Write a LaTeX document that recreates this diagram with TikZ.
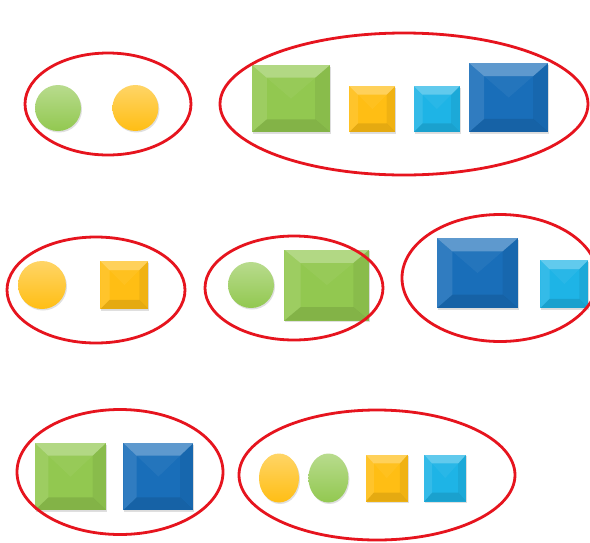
\documentclass[tikz,border=0pt]{standalone}
\usetikzlibrary{positioning, shapes.geometric, shadows, calc}
\definecolor{leafgreen}{RGB}{146,200,80}
\definecolor{sunyellow}{RGB}{255,190,20}
\definecolor{skycyan}{RGB}{30,180,230}
\definecolor{deepblue}{RGB}{25,110,185}
\definecolor{ringred}{RGB}{230,20,30}

\tikzset{
  ball/.style={circle, inner sep=0pt, minimum size=46pt, top color=#1!65!white, bottom color=#1,
    drop shadow={shadow xshift=1pt, shadow yshift=-1.5pt, opacity=0.25}},
  gem/.style={rectangle, inner sep=0pt, fill=#1,
    drop shadow={shadow xshift=1pt, shadow yshift=-1.5pt, opacity=0.25},
    path picture={
      \coordinate (nw) at (path picture bounding box.north west);
      \coordinate (ne) at (path picture bounding box.north east);
      \coordinate (sw) at (path picture bounding box.south west);
      \coordinate (se) at (path picture bounding box.south east);
      \coordinate (mid) at (path picture bounding box.center);
      \coordinate (inw) at ($(nw)!0.38!(mid)$);
      \coordinate (ine) at ($(ne)!0.38!(mid)$);
      \coordinate (isw) at ($(sw)!0.38!(mid)$);
      \coordinate (ise) at ($(se)!0.38!(mid)$);
      \fill[white, opacity=0.30] (nw) -- (ne) -- (ine) -- (inw) -- cycle;
      \fill[white, opacity=0.10] (nw) -- (sw) -- (isw) -- (inw) -- cycle;
      \fill[black, opacity=0.06] (ne) -- (se) -- (ise) -- (ine) -- cycle;
      \fill[black, opacity=0.10] (sw) -- (se) -- (ise) -- (isw) -- cycle;
      \fill[white, opacity=0.05] (inw) -- (ine) -- (mid) -- cycle;
    }},
  grp/.style={ellipse, draw=ringred, line width=2.8pt, inner sep=0pt}
}

\begin{document}
\begin{tikzpicture}[x=1pt, y=-1pt]
  \fill[white] (0,0) rectangle (590,542);
  \useasboundingbox (0,0) rectangle (590,542);

  % first row
  \node[ball=leafgreen] (gc1) at (58,108) {};
  \node[ball=sunyellow, right=31pt of gc1] (yc1) {};
  \node[gem=leafgreen, minimum width=78pt, minimum height=67pt] (gs1) at (291,98.5) {};
  \node[gem=sunyellow, minimum size=46pt, right=19pt of gs1.south east, anchor=south west] (ys1) {};
  \node[gem=skycyan, minimum size=46pt, right=18pt of ys1] (cs1) {};
  \node[gem=deepblue, minimum width=79pt, minimum height=69pt, right=9pt of cs1.south east, anchor=south west] (bs1) {};

  % second row
  \node[ball=sunyellow, minimum size=48pt] (yc2) at (42,285) {};
  \node[gem=sunyellow, minimum size=48pt, right=34pt of yc2] (ys2) {};
  \node[ball=leafgreen] (gc2) at (251,285) {};
  \node[gem=leafgreen, minimum width=85pt, minimum height=71pt, right=10pt of gc2] (gs2) {};
  \node[gem=deepblue, minimum width=81pt, minimum height=70pt] (bs2) at (477.5,273) {};
  \node[gem=skycyan, minimum size=48pt, right=22pt of bs2.south east, anchor=south west] (cs2) {};

  % third row
  \node[gem=leafgreen, minimum width=71pt, minimum height=67pt] (gs3) at (70.5,476.5) {};
  \node[gem=deepblue, minimum width=70pt, minimum height=67pt, right=17pt of gs3] (bs3) {};
  \node[ball=sunyellow, ellipse, minimum width=40pt, minimum height=49pt] (yc3) at (279,478) {};
  \node[ball=leafgreen, ellipse, minimum width=40pt, minimum height=49pt, right=9pt of yc3] (gc3) {};
  \node[gem=sunyellow, minimum width=42pt, minimum height=47pt, right=17pt of gc3] (ys3) {};
  \node[gem=skycyan, minimum width=42pt, minimum height=47pt, right=16pt of ys3] (cs3) {};

  % groups
  \node[grp, minimum width=166pt, minimum height=102pt] (grpA) at (108,104) {};
  \node[grp, minimum width=368pt, minimum height=142pt] (grpB) at (404,104) {};
  \node[grp, minimum width=178pt, minimum height=106pt] (grpC) at (96,290) {};
  \node[grp, minimum width=178pt, minimum height=104pt] (grpD) at (294,288) {};
  \node[grp, minimum width=196pt, minimum height=127pt] (grpE) at (500,278) {};
  \node[grp, minimum width=206pt, minimum height=125pt] (grpF) at (120,472) {};
  \node[grp, minimum width=276pt, minimum height=130pt] (grpG) at (377,475) {};
\end{tikzpicture}
\end{document}
